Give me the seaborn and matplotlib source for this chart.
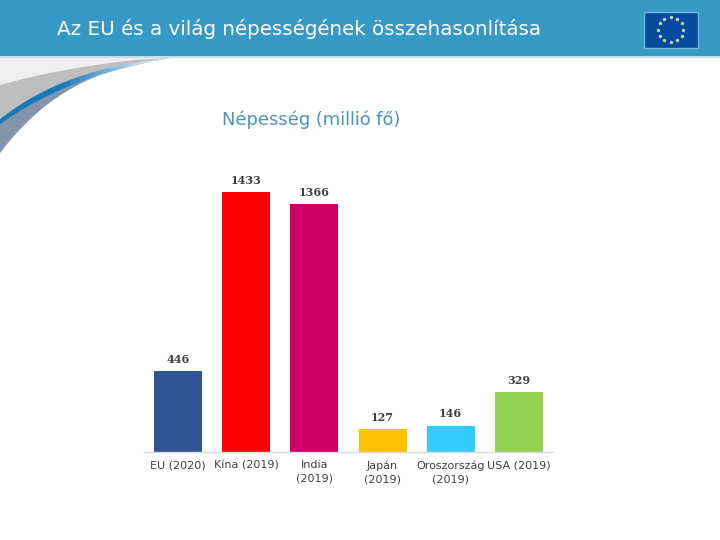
import matplotlib
matplotlib.use("Agg")
import matplotlib.pyplot as plt
from matplotlib.colors import to_rgb
from matplotlib.patches import Rectangle
import numpy as np
import pandas as pd
import seaborn as sns

title = "Az EU és a világ népességének összehasonlítása"
subtitle = "Népesség (millió fő)"
categories = ["EU (2020)", "Kína (2019)", "India\n(2019)", "Japán\n(2019)", "Oroszország\n(2019)", "USA (2019)"]
population = [446, 1433, 1366, 127, 146, 329]
bar_colors = ["#2F5597", "#FF0000", "#CC0066", "#FFC000", "#33CCFF", "#92D050"]

sns.set_theme(style="white")
plt.rcParams["font.family"] = ["DejaVu Sans"]

W, H = 720, 540
fig = plt.figure(figsize=(7.2, 5.4), dpi=100, facecolor="white")

# full-figure overlay in pixel coordinates for the slide decoration
bg = fig.add_axes([0, 0, 1, 1], zorder=0)
bg.set_xlim(0, W); bg.set_ylim(H, 0); bg.axis("off")

def bez(p0, p1, p2, p3, n=60):
    t = np.linspace(0, 1, n)[:, None]
    p0, p1, p2, p3 = map(np.array, (p0, p1, p2, p3))
    return (1-t)**3*p0 + 3*(1-t)**2*t*p1 + 3*(1-t)*t**2*p2 + t**3*p3

def band(a, b, color, z):
    bg.fill(np.r_[a[:, 0], b[::-1, 0]], np.r_[a[:, 1], b[::-1, 1]], color=color, lw=0, zorder=z)

outer = bez((0, 153), (40, 100), (90, 68), (168, 58))
grey_top = bez((0, 85), (40, 74), (80, 66), (135, 60))
top_line = np.array([[0.0, 57.0], [172.0, 57.0]])

band(top_line, np.vstack([grey_top, outer[-1:]]), "#EFEFEF", 1)
band(np.vstack([grey_top, outer[-1:]]), outer, "#BEBEBE", 2)

streak_up = bez((0, 119), (40, 88), (90, 66), (170, 58))
streak_lo = bez((0, 124), (40, 96), (90, 72), (170, 58))
band(streak_lo, outer, "#8495AB", 3)

# streak fades from saturated blue to pale blue along its length
c0, c1 = np.array(to_rgb("#1479B8")), np.array(to_rgb("#D3E8F5"))
for i in range(len(streak_up) - 1):
    x = streak_up[i, 0]
    f = np.clip((x - 62) / 85, 0, 1)
    band(streak_up[i:i + 2] + [[0, 0], [0.4, 0]], streak_lo[i:i + 2] + [[0, 0], [0.4, 0]],
         tuple(c0 + (c1 - c0) * f), 4)

# header band
bg.add_patch(Rectangle((0, 0), W, 56, color="#3698C5", lw=0, zorder=6))
bg.add_patch(Rectangle((0, 56), W, 2, color="#BFE0EF", lw=0, zorder=6))
bg.text(57, 29, title, color="white", fontsize=14.35, va="center", ha="left", zorder=7)

# EU flag
bg.add_patch(Rectangle((643.5, 11.5), 54.5, 36, facecolor="#0A4A9E", edgecolor="#6CB6DA", lw=1, zorder=7))
ang = np.deg2rad(np.arange(0, 360, 30))
bg.scatter(670.7 + 12.5 * np.cos(ang), 29.5 + 12.5 * np.sin(ang), s=6, marker="o", color="#B9D9A0", lw=0, zorder=8)

bg.text(311.5, 120, subtitle, color="#4A95B5", fontsize=12.9, ha="center", va="center", zorder=7)

# bar chart: baseline at y=452, 0.1814 px per unit
left, right, top, base = 144, 553, 170, 452
ax = fig.add_axes([left / W, 1 - base / H, (right - left) / W, (base - top) / H], zorder=2)
ax.patch.set_alpha(0)
df = pd.DataFrame({"category": categories, "population": population})
sns.barplot(data=df, x="category", y="population", hue="category", order=categories,
            hue_order=categories, palette=bar_colors, legend=False, width=0.704, saturation=1,
            edgecolor="none", linewidth=0, ax=ax)
ax.set_xlim(-0.5, 5.5)
ax.set_ylim(0, (base - top) / 0.1814)
ax.set_xlabel(""); ax.set_ylabel("")
ax.set_yticks([])
ax.tick_params(axis="x", length=0, pad=6, labelsize=8, labelcolor="#404040")
for s in ["top", "left", "right"]:
    ax.spines[s].set_visible(False)
ax.spines["bottom"].set_color("#D9D9D9")
ax.spines["bottom"].set_linewidth(1)
for lab in ax.get_xticklabels():
    lab.set_linespacing(1.45)
    lab.set_verticalalignment("top")

for i, v in enumerate(population):
    ax.annotate(str(v), (i, v), xytext=(0, 8.5), textcoords="offset points", ha="center", va="center",
                family="DejaVu Serif", fontsize=8, fontweight="bold", color="#404040")

fig.savefig("out.png", dpi=100)
